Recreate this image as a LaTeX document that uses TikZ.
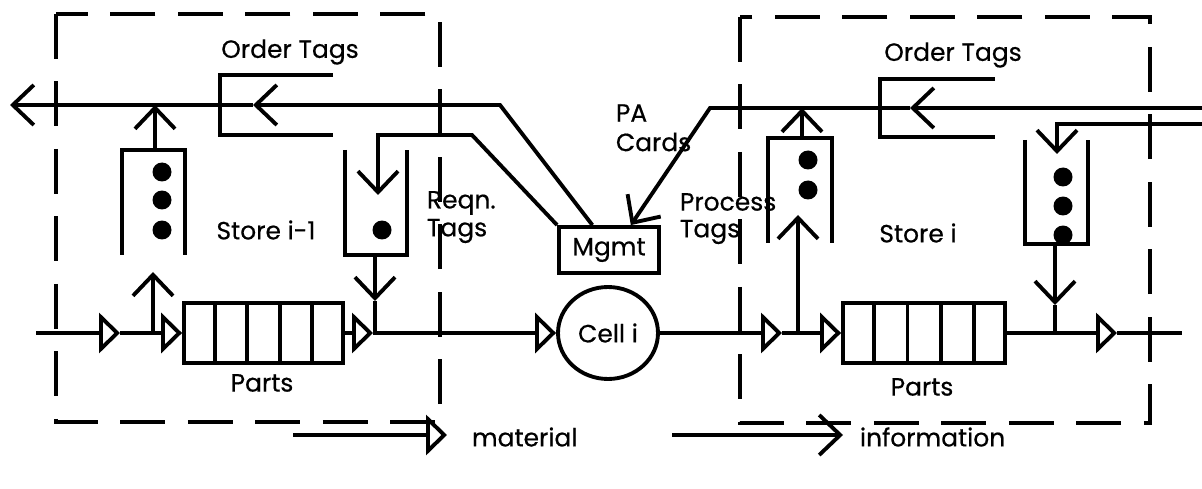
\documentclass[tikz,border=0pt]{standalone}
\usepackage{fontspec}
\setmainfont{Poppins}[FakeBold=0.5]
\usetikzlibrary{arrows.meta,shapes.geometric,calc}
\begin{document}
\begin{tikzpicture}[x=0.02cm,y=-0.02cm,line width=2.2pt,line join=miter,
  mat/.style={-{Triangle[open,length=0.42cm,width=0.8cm]}},
  inf/.style={-{Straight Barb[length=0.42cm,width=0.8cm]}},
  dashbox/.style={dash pattern=on 0.9cm off 0.45cm,line width=2.1pt},
  lbl/.style={font=\fontsize{14.2}{15}\selectfont,inner sep=0pt},
  tagdot/.style={circle,fill=black,minimum size=0.38cm,inner sep=0pt},
  partsbox/.style={draw,rectangle,minimum height=1.2cm,inner sep=0pt},
  mgmtbox/.style={draw,rectangle,minimum width=2cm,minimum height=0.92cm,inner sep=0pt,font=\fontsize{14.2}{15}\selectfont},
  cellbox/.style={draw,ellipse,minimum width=2cm,minimum height=1.84cm,inner sep=0pt,font=\fontsize{14.2}{15}\selectfont}]
\useasboundingbox (0,0) rectangle (1202,489);

% dashed store boundaries
\draw[dashbox] (56,14) rectangle (440,422);
\draw[dashbox] (740,17) rectangle (1150,423);

% main nodes
\node[partsbox,minimum width=3.18cm] (pA) at (263.5,333) {};
\node[partsbox,minimum width=3.24cm] (pB) at (924,333) {};
\foreach \f in {0.2,0.4,0.6,0.8}{
  \draw ($(pA.north west)!\f!(pA.north east)$) -- ($(pA.south west)!\f!(pA.south east)$);
  \draw ($(pB.north west)!\f!(pB.north east)$) -- ($(pB.south west)!\f!(pB.south east)$);
}
\node[cellbox] (cell) at (608,333) {Cell i};
\node[mgmtbox] (mg) at (609,250) {Mgmt};

% coordinates on material line
\coordinate (m0) at (36,333);
\coordinate (a1) at (120,333);
\coordinate (j1) at (153,333);
\coordinate (a3) at (373,333);
\coordinate (a4) at (782,333);
\coordinate (j2) at (798,333);
\coordinate (j3) at (1055,333);
\coordinate (j4) at (375,333);
\coordinate (a6) at (1117,333);
\coordinate (m1) at (1182,333);

% material flow
\draw[mat] (m0) -- (a1);
\draw[mat] (a1) -- (pA.west);
\draw[mat] (pA.east) -- (a3);
\draw[mat] (a3) -- (cell.west);
\draw[mat] (cell.east) -- (a4);
\draw[mat] (a4) -- (pB.west);
\draw[mat] (pB.east) -- (a6);
\draw (a6) -- (m1);

% left tag boxes
\draw (122,255) -- (122,150) -- (185,150) -- (185,255);
\draw (345,150) -- (345,255) -- (407,255) -- (407,150);
\node[tagdot] (dA1) at (162,172) {};
\node[tagdot] (dA2) at (162,200) {};
\node[tagdot] (dA3) at (162,230) {};
\node[tagdot] (dR1) at (382,230) {};

% right tag boxes
\draw (768,243) -- (768,138) -- (832,138) -- (832,243);
\draw (1025,140) -- (1025,244) -- (1088,244) -- (1088,140);
\node[tagdot] (dB1) at (808,160) {};
\node[tagdot] (dB2) at (808,190) {};
\node[tagdot] (dS1) at (1063,177) {};
\node[tagdot] (dS2) at (1063,206) {};
\node[tagdot] (dS3) at (1063,235) {};

% order tag brackets
\draw (333,75) -- (220,75) -- (220,135) -- (333,135);
\draw (995,79) -- (880,79) -- (880,137) -- (995,137);

% information flows, left store
\coordinate (u1) at (153,272);
\draw[inf] (j1) -- (u1);
\coordinate (bA) at (155,150);
\coordinate (oA) at (155,105);
\draw[inf] (bA) -- (oA);
\coordinate (d1top) at (375,255);
\coordinate (d1tip) at (375,301);
\draw[inf] (d1top) -- (d1tip);
\draw (d1tip) -- (j4);

\coordinate (oArrL) at (253,105);
\coordinate (oEndL) at (10,105);
\draw[inf] ($(mg.north west)!0.34!(mg.north east)$) -- (500,105) -- (oArrL);
\draw[inf] (oArrL) -- (oEndL);
\coordinate (rqTip) at (378,195);
\draw[inf] (mg.north west) -- (472,135) -- (378,135) -- (rqTip);

% information flows, right store
\coordinate (u2) at (798,215);
\draw[inf] (j2) -- (u2);
\coordinate (bB) at (802,138);
\coordinate (oB) at (802,108);
\draw[inf] (bB) -- (oB);
\coordinate (rEnd) at (1202,108);
\coordinate (oArrR) at (910,108);
\draw[inf] (rEnd) -- (oArrR);
\draw[inf] (oArrR) -- (710,108) -- ($(mg.north west)!0.71!(mg.north east)$);
\coordinate (rEnd2) at (1202,124);
\coordinate (rqTipB) at (1057,154);
\draw[inf] (rEnd2) -- (1057,124) -- (rqTipB);
\coordinate (d2top) at (1055,244);
\coordinate (d2tip) at (1055,305);
\draw[inf] (d2top) -- (d2tip);
\draw (d2tip) -- (j3);

% labels
\node[lbl] (tOL) at (290,52) {Order Tags};
\node[lbl] (tOR) at (953,55) {Order Tags};
\node[lbl] (tSA) at (266,230) {Store i-1};
\node[lbl] (tSB) at (918,233) {Store i};
\node[lbl] (tPA) at (262,383) {Parts};
\node[lbl] (tPB) at (922,387) {Parts};
\node[lbl,anchor=west] (tRq1) at (425,203) {Reqn.};
\node[lbl,anchor=west] (tRq2) at (425,231) {Tags};
\node[lbl,anchor=west] (tPC1) at (614,113) {PA};
\node[lbl,anchor=west] (tPC2) at (614,142) {Cards};
\node[lbl,anchor=west] (tPr1) at (678,202) {Process};
\node[lbl,anchor=west] (tPr2) at (678,232) {Tags};

% legend
\coordinate (lm0) at (293,435);
\coordinate (lm1) at (447,435);
\draw[mat] (lm0) -- (lm1);
\node[lbl,anchor=west] (tMat) at (470,437) {material};
\coordinate (li0) at (672,435);
\coordinate (li1) at (843,435);
\draw[inf] (li0) -- (li1);
\node[lbl,anchor=west] (tInf) at (858,437) {information};
\end{tikzpicture}
\end{document}
